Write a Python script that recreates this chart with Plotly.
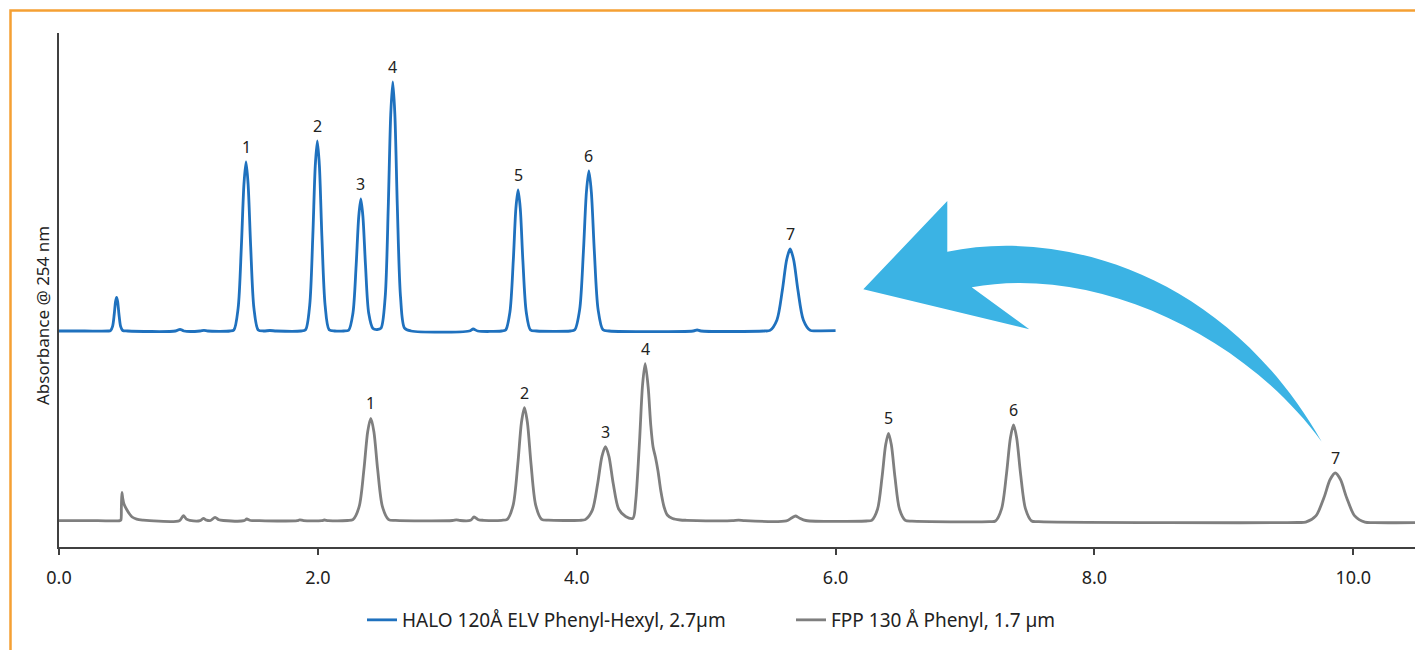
import plotly.graph_objects as go

# ---------------- data ----------------
# retention time (min) / absorbance (arbitrary units) points of the HALO trace
halo_time = [
    0.00, 0.20, 0.38,
    0.398, 0.414, 0.427, 0.437, 0.445, 0.453, 0.463, 0.476, 0.492,
    0.53, 0.90, 0.935, 0.965, 1.09, 1.12, 1.15, 1.32,
    1.351, 1.384, 1.409, 1.429, 1.445, 1.461, 1.481, 1.506, 1.539,
    1.58, 1.63, 1.68, 1.87,
    1.905, 1.937, 1.961, 1.980, 1.996, 2.012, 2.031, 2.056, 2.087,
    2.13, 2.20,
    2.238, 2.271, 2.296, 2.316, 2.332, 2.348, 2.368, 2.393, 2.426,
    2.46,
    2.488, 2.520, 2.544, 2.563, 2.579, 2.595, 2.614, 2.639, 2.670,
    2.72, 3.17, 3.20, 3.235, 3.42,
    3.451, 3.484, 3.510, 3.530, 3.547, 3.564, 3.584, 3.610, 3.643,
    3.69, 3.95,
    3.985, 4.023, 4.052, 4.075, 4.094, 4.113, 4.136, 4.165, 4.203,
    4.25, 4.90, 4.93, 4.96, 5.45,
    5.493, 5.547, 5.589, 5.622, 5.649, 5.676, 5.709, 5.751, 5.805,
    5.86, 6.00,
]
halo_abs = [
    216.0, 216.0, 216.0,
    216.3, 220.6, 233.0, 245.5, 249.7, 245.5, 233.0, 220.6, 216.5,
    216.0, 216.0, 217.7, 216.0, 216.0, 216.7, 216.0, 216.0,
    217.0, 238.8, 300.5, 362.9, 385.0, 362.9, 300.5, 238.8, 217.0,
    216.0, 216.5, 216.0, 216.0,
    217.2, 241.7, 311.0, 381.1, 406.0, 381.1, 311.0, 241.7, 217.2,
    216.0, 216.0,
    216.8, 233.8, 282.0, 330.7, 348.0, 330.7, 282.0, 233.8, 218.5,
    217.5,
    218.8, 249.6, 340.5, 432.4, 465.0, 432.4, 340.5, 249.6, 218.8,
    216.0, 216.0, 218.0, 216.0, 216.0,
    217.0, 235.0, 286.5, 338.5, 357.0, 338.5, 286.5, 235.0, 217.0,
    216.0, 216.0,
    217.2, 237.6, 296.0, 355.0, 376.0, 355.0, 296.0, 237.6, 217.2,
    216.0, 216.0, 217.0, 216.0, 216.0,
    216.6, 227.1, 257.0, 287.3, 298.0, 287.3, 257.0, 227.1, 216.6,
    216.2, 216.3,
]

# retention time (min) / absorbance points of the FPP trace
fpp_time = [
    0.00, 0.30, 0.47, 0.478, 0.482, 0.486, 0.492, 0.502, 0.523, 0.545, 0.565, 0.60, 0.65, 0.70,
    0.93, 0.961, 0.985, 1.01, 1.09, 1.115, 1.14, 1.17, 1.206, 1.235, 1.27,
    1.43, 1.451, 1.48, 1.55, 1.84, 1.86, 1.89, 2.03, 2.05, 2.08, 2.23,
    2.271, 2.319, 2.356, 2.385, 2.409, 2.433, 2.462, 2.499, 2.547,
    2.60, 3.04, 3.07, 3.10, 3.18, 3.207, 3.24, 3.28, 3.42,
    3.463, 3.509, 3.545, 3.573, 3.596, 3.619, 3.647, 3.683, 3.729,
    3.78, 4.02,
    4.066, 4.120, 4.162, 4.195, 4.222, 4.249, 4.282, 4.324, 4.378,
    4.434,
    4.455, 4.485, 4.509, 4.529, 4.552, 4.572, 4.590, 4.608, 4.628, 4.650, 4.675, 4.70, 4.74, 4.80, 4.85,
    5.20, 5.25, 5.30, 5.62, 5.66, 5.69, 5.72, 5.77, 6.24,
    6.279, 6.324, 6.359, 6.387, 6.409, 6.431, 6.459, 6.494, 6.539,
    6.59, 7.19,
    7.235, 7.283, 7.321, 7.351, 7.375, 7.399, 7.429, 7.467, 7.515,
    7.57, 9.57,
    9.632, 9.711, 9.773, 9.821, 9.861, 9.901, 9.949, 10.011, 10.090,
    10.16, 10.50,
]
fpp_abs = [
    26.3, 26.3, 26.3, 27.0, 40.0, 54.7, 49.0, 43.0, 37.5, 33.0, 30.0, 27.8, 26.8, 26.3,
    26.3, 31.3, 27.8, 26.6, 26.3, 28.7, 26.8, 26.5, 29.7, 27.2, 26.5,
    26.3, 28.0, 26.5, 26.3, 26.3, 27.2, 26.3, 26.3, 27.0, 26.4, 26.5,
    27.4, 40.3, 77.6, 115.3, 128.7, 115.3, 77.6, 40.3, 27.4,
    26.6, 26.5, 27.2, 26.5, 26.7, 30.0, 27.3, 26.7, 26.7,
    27.7, 41.9, 83.0, 124.5, 139.3, 124.5, 83.0, 41.9, 27.7,
    26.8, 26.7,
    27.4, 36.6, 63.5, 90.7, 100.3, 90.7, 63.5, 38.0, 30.5,
    28.7,
    45.0, 105.0, 162.5, 183.3, 160.0, 122.0, 100.0, 90.0, 76.0, 56.0, 40.0, 32.0, 28.5, 27.0, 26.7,
    26.3, 26.9, 26.3, 26.2, 29.0, 31.0, 29.0, 26.5, 26.0,
    26.6, 37.7, 69.8, 102.2, 113.7, 102.2, 69.8, 37.7, 26.6,
    25.8, 25.4,
    26.0, 38.4, 73.7, 109.3, 122.0, 109.3, 73.7, 38.4, 26.0,
    25.3, 24.5,
    24.9, 31.1, 49.2, 67.5, 74.0, 67.5, 49.2, 31.1, 24.9,
    24.4, 24.3,
]

# numbered peaks (apex time / apex absorbance)
peak_labels = ["1", "2", "3", "4", "5", "6", "7"]
halo_peak_time = [1.445, 1.996, 2.332, 2.579, 3.547, 4.094, 5.649]
halo_peak_abs = [385.0, 406.0, 348.0, 465.0, 357.0, 376.0, 298.0]
fpp_peak_time = [2.409, 3.596, 4.222, 4.529, 6.409, 7.375, 9.861]
fpp_peak_abs = [128.7, 139.3, 100.3, 183.3, 113.7, 122.0, 74.0]

x_ticks = [0, 2, 4, 6, 8, 10]
x_tick_text = ["0.0", "2.0", "4.0", "6.0", "8.0", "10.0"]

halo_name = "HALO 120Å ELV Phenyl-Hexyl, 2.7µm"
fpp_name = "FPP 130 Å Phenyl, 1.7 µm"
y_title = "Absorbance @ 254 nm"

# ---------------- figure ----------------
# page body adds an 8 px offset; figure fills the rest of the 1423x650 window
W, H = 1415, 642
ML, MR, MT, MB = 51, 5, 25, 103
PW, PH = W - ML - MR, H - MT - MB
OFF = 8  # screen offset of the figure

BLUE = "#1F71BE"
GRAY = "#7F7F7F"
TEXT = "#222222"
AXIS = "#404040"
FONT = "Noto Sans, Liberation Sans, sans-serif"


def px(x, y):
    """screen pixel -> paper coordinates (decoration only)"""
    return (x - OFF - ML) / PW, (H - MB - (y - OFF)) / PH


def pt(x, y):
    a, b = px(x, y)
    return f"{a:.5f},{b:.5f}"


fig = go.Figure()
fig.add_trace(go.Scatter(x=halo_time, y=halo_abs, mode="lines", name=halo_name,
                         line=dict(color=BLUE, width=2.8, shape="spline", smoothing=0.8)))
fig.add_trace(go.Scatter(x=fpp_time, y=fpp_abs, mode="lines", name=fpp_name,
                         line=dict(color=GRAY, width=2.8, shape="spline", smoothing=0.8)))

annotations = []
for lab, t, a in zip(peak_labels, halo_peak_time, halo_peak_abs):
    annotations.append(dict(x=t, y=a, text=lab, showarrow=False, yanchor="middle",
                            yshift=15, font=dict(size=16, color=TEXT, family=FONT)))
for lab, t, a in zip(peak_labels, fpp_peak_time, fpp_peak_abs):
    annotations.append(dict(x=t, y=a, text=lab, showarrow=False, yanchor="middle",
                            yshift=15, font=dict(size=16, color=TEXT, family=FONT)))

tx, ty = px(42, 316)
annotations.append(dict(x=tx, y=ty, xref="paper", yref="paper", text=y_title,
                        showarrow=False, textangle=-90, xanchor="center", yanchor="middle",
                        font=dict(size=17, color=TEXT, family=FONT)))

# curved arrow (decoration)
arrow_path = (
    "M " + pt(863.3, 289.3) +
    " L " + pt(947.3, 201.0) +
    " L " + pt(947.3, 251.7) +
    " C " + pt(1060, 228) + " " + pt(1225, 272) + " " + pt(1321.7, 441.7) +
    " C " + pt(1240, 330) + " " + pt(1090, 265) + " " + pt(971.7, 287.3) +
    " L " + pt(1029.3, 329.3) + " Z"
)
bx0, by0 = px(10.5, 10.5)
bx1, by1 = px(1440, 680)
shapes = [
    dict(type="path", xref="paper", yref="paper", path=arrow_path,
         fillcolor="#3BB3E4", line=dict(width=0), layer="below"),
    dict(type="rect", xref="paper", yref="paper", x0=bx0, y0=by1, x1=bx1, y1=by0,
         line=dict(color="#F5A033", width=2.5), fillcolor="rgba(0,0,0,0)", layer="above"),
]

lx, ly = px(362, 620)

fig.update_layout(
    width=W, height=H,
    margin=dict(l=ML, r=MR, t=MT, b=MB),
    paper_bgcolor="white", plot_bgcolor="white",
    font=dict(family=FONT, color=TEXT),
    xaxis=dict(range=[0, 10.5], tickvals=x_ticks, ticktext=x_tick_text,
               showline=True, linecolor=AXIS, linewidth=2, ticks="outside",
               ticklen=6, tickwidth=1.5, tickcolor=AXIS, showgrid=False,
               zeroline=False, tickfont=dict(size=18, color=TEXT),
               ticklabelstandoff=7),
    yaxis=dict(range=[0, 514], showline=True, linecolor=AXIS, linewidth=2,
               showticklabels=False, ticks="", showgrid=False, zeroline=False),
    showlegend=True,
    legend=dict(orientation="h", x=lx, xanchor="left", y=ly, yanchor="middle",
                font=dict(size=19, color=TEXT), itemwidth=30,
                entrywidth=384, entrywidthmode="pixels"),
    annotations=annotations,
    shapes=shapes,
)

fig.write_html("out.html")
